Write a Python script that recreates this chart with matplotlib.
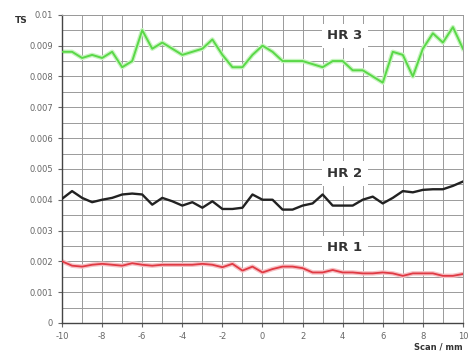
import matplotlib
matplotlib.use("Agg")
import matplotlib.pyplot as plt
import numpy as np

# scan positions (mm), sampled every 0.5 mm
scan = np.arange(-10, 10.01, 0.5)

hr3 = [0.0088, 0.0088, 0.0086, 0.0087, 0.0086, 0.0088, 0.0083, 0.0085, 0.0095, 0.0089,
       0.0091, 0.0089, 0.0087, 0.0088, 0.0089, 0.0092, 0.0087, 0.0083, 0.0083, 0.0087,
       0.0090, 0.0088, 0.0085, 0.0085, 0.0085, 0.0084, 0.0083, 0.0085, 0.0085, 0.0082,
       0.0082, 0.0080, 0.0078, 0.0088, 0.0087, 0.0080, 0.0089, 0.0094, 0.0091, 0.0096,
       0.0089]
hr2 = [0.00403, 0.00428, 0.00406, 0.00392, 0.00400, 0.00406, 0.00417, 0.00420, 0.00417, 0.00384,
       0.00406, 0.00395, 0.00381, 0.00392, 0.00374, 0.00395, 0.00370, 0.00370, 0.00374, 0.00417,
       0.00400, 0.00400, 0.00368, 0.00368, 0.00381, 0.00388, 0.00417, 0.00381, 0.00381, 0.00381,
       0.00400, 0.00410, 0.00388, 0.00406, 0.00428, 0.00424, 0.00432, 0.00434, 0.00434, 0.00445,
       0.00459]
hr1 = [0.00200, 0.00186, 0.00183, 0.00189, 0.00192, 0.00189, 0.00186, 0.00194, 0.00189, 0.00186,
       0.00189, 0.00189, 0.00189, 0.00189, 0.00192, 0.00189, 0.00181, 0.00192, 0.00170, 0.00183,
       0.00164, 0.00175, 0.00183, 0.00183, 0.00178, 0.00164, 0.00164, 0.00172, 0.00164, 0.00164,
       0.00161, 0.00161, 0.00164, 0.00161, 0.00153, 0.00161, 0.00161, 0.00161, 0.00153, 0.00153,
       0.00159]

x_ticks = np.arange(-10, 11, 2)
y_ticks = np.arange(0, 0.0101, 0.001)
y_labels = ["0", "0.001", "0.002", "0.003", "0.004", "0.005", "0.006", "0.007", "0.008", "0.009", "0.01"]

fig = plt.figure(figsize=(4.70, 3.53), dpi=100)
ax = fig.add_axes([0.132, 0.085, 0.853, 0.873])

# grid: every 1 mm and every 0.0005
for xv in np.arange(-10, 10.1, 1):
    ax.axvline(xv, color="#9a9a9a", lw=0.7, zorder=0)
for yv in np.arange(0, 0.01001, 0.0005):
    ax.axhline(yv, color="#9a9a9a", lw=0.7, zorder=0)

# soft halo under the coloured traces
ax.plot(scan, hr3, color="#c8f4c0", lw=3.2, zorder=2, solid_joinstyle="round")
ax.plot(scan, hr3, color="#5ad848", lw=1.4, zorder=3)
ax.plot(scan, hr2, color="#222222", lw=1.7, zorder=3)
ax.plot(scan, hr1, color="#f6c0c4", lw=3.2, zorder=2, solid_joinstyle="round")
ax.plot(scan, hr1, color="#e03a44", lw=1.3, zorder=3)

box = dict(facecolor="white", edgecolor="none", pad=4)
ax.text(4.1, 0.00932, "HR 3", fontsize=9.5, fontweight="bold", color="#333333",
        ha="center", va="center", bbox=box, zorder=4)
ax.text(4.1, 0.00485, "HR 2", fontsize=9.5, fontweight="bold", color="#333333",
        ha="center", va="center", bbox=box, zorder=4)
ax.text(4.1, 0.00244, "HR 1", fontsize=9.5, fontweight="bold", color="#333333",
        ha="center", va="center", bbox=box, zorder=4)

ax.set_xlim(-10, 10)
ax.set_ylim(0, 0.01)
ax.set_xticks(x_ticks)
ax.set_xticklabels([str(v) for v in x_ticks])
ax.set_yticks(y_ticks)
ax.set_yticklabels(y_labels)
ax.tick_params(axis="both", labelsize=6, colors="#666666", length=3, width=0.8)
for s in ["top", "right"]:
    ax.spines[s].set_color("#9a9a9a")
    ax.spines[s].set_linewidth(0.7)
for s in ["left", "bottom"]:
    ax.spines[s].set_color("#444444")
    ax.spines[s].set_linewidth(1.0)

fig.text(0.032, 0.935, "TS", fontsize=6.5, fontweight="bold", color="#333333")
fig.text(0.985, 0.01, "Scan / mm", fontsize=6, fontweight="bold", color="#333333", ha="right")

fig.savefig("out.png", dpi=100)
